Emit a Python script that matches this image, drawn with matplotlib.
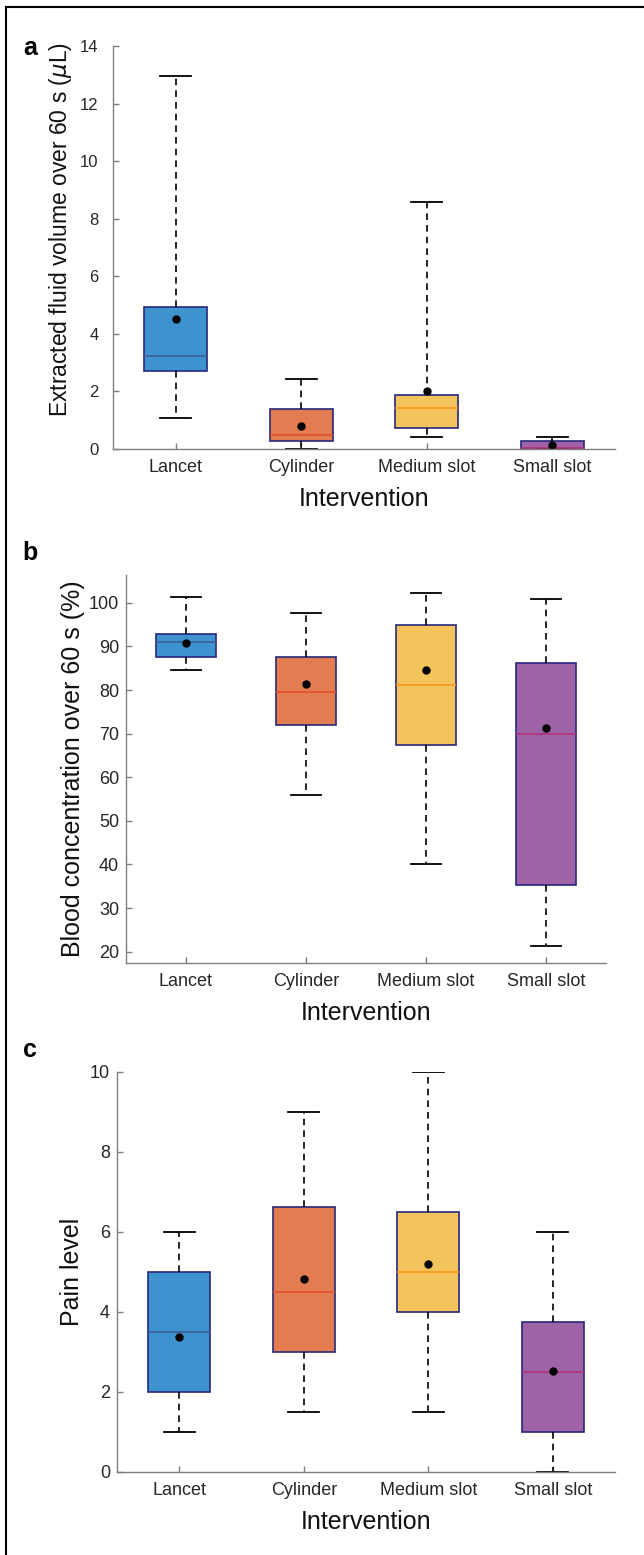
import matplotlib
matplotlib.use("Agg")
import matplotlib.pyplot as plt
from matplotlib.lines import Line2D

plt.rcParams['font.family'] = ['Liberation Sans', 'DejaVu Sans']

categories = ['Lancet', 'Cylinder', 'Medium slot', 'Small slot']
fills = ['#3e93cf', '#e37d51', '#f2c45b', '#9e62a7']
medcols = ['#3c5d96', '#e2502a', '#f7961f', '#b2307a']

# panel a: extracted fluid volume (uL)
vol_lo = [1.07, 0.0, 0.42, 0.0]
vol_q1 = [2.70, 0.28, 0.72, 0.0]
vol_med = [3.22, 0.50, 1.42, 0.04]
vol_q3 = [4.92, 1.40, 1.87, 0.28]
vol_hi = [12.95, 2.43, 8.57, 0.43]
vol_mean = [4.53, 0.80, 2.02, 0.14]

# panel b: blood concentration (%)
bc_lo = [84.5, 56.0, 40.2, 21.2]
bc_q1 = [87.6, 71.9, 67.4, 35.3]
bc_med = [91.1, 79.5, 81.1, 70.0]
bc_q3 = [92.8, 87.5, 95.0, 86.2]
bc_hi = [101.4, 97.6, 102.3, 101.0]
bc_mean = [90.7, 81.5, 84.7, 71.4]

# panel c: pain level
pain_lo = [1.0, 1.5, 1.5, 0.0]
pain_q1 = [2.0, 3.0, 4.0, 1.0]
pain_med = [3.5, 4.5, 5.0, 2.5]
pain_q3 = [5.0, 6.62, 6.5, 3.75]
pain_hi = [6.0, 9.0, 10.0, 6.0]
pain_mean = [3.38, 4.82, 5.2, 2.53]

W, H = 644, 1555
fig = plt.figure(figsize=(W / 100, H / 100), dpi=100)


def rect(l, t, r, b):
    return [l / W, 1 - b / H, (r - l) / W, (b - t) / H]


def panel(box, lo, q1, med, q3, hi, mean, ylim, yticks, ylabel, ylab_size,
          ylab_pos, ypad, ysize, letter):
    ax = fig.add_axes(rect(*box))
    stats = []
    for i in range(len(categories)):
        stats.append(dict(whislo=lo[i], q1=q1[i], med=med[i], q3=q3[i],
                          whishi=hi[i], mean=mean[i], fliers=[]))
    bp = ax.bxp(stats, positions=range(1, 5), widths=0.5, capwidths=0.25,
                patch_artist=True, showmeans=True, showfliers=False,
                boxprops=dict(edgecolor='#27287c', linewidth=1.2),
                whiskerprops=dict(color='black', linestyle=(0, (4, 3)), linewidth=1.2),
                capprops=dict(color='black', linewidth=1.3),
                meanprops=dict(marker='o', markerfacecolor='black',
                               markeredgecolor='black', markersize=5))
    for patch, fc in zip(bp['boxes'], fills):
        patch.set_facecolor(fc)
    for m, c in zip(bp['medians'], medcols):
        m.set_color(c)
        m.set_linewidth(1.2)
    ax.set_xlim(0.5, 4.5)
    ax.set_ylim(*ylim)
    ax.set_yticks(yticks)
    ax.set_xticks(range(1, 5))
    ax.set_xticklabels(categories)
    for s in ['top', 'right']:
        ax.spines[s].set_visible(False)
    for s in ['left', 'bottom']:
        ax.spines[s].set_color('#7f7f7f')
        ax.spines[s].set_linewidth(1.0)
    ax.tick_params(direction='in', length=4, width=1.0, color='#7f7f7f',
                   labelcolor='#262626', labelsize=13)
    ax.tick_params(axis='x', pad=7.5)
    ax.tick_params(axis='y', pad=ypad, labelsize=ysize)
    ax.set_xlabel('Intervention', fontsize=18, color='#111111', labelpad=7.5)
    ax.set_ylabel(ylabel, fontsize=ylab_size, color='#111111')
    ax.yaxis.set_label_coords(*ylab_pos)
    fig.text(30 / W, 1 - letter[1] / H, letter[0], fontsize=18, fontweight='bold',
             ha='center', va='baseline')
    return ax


panel((113, 46, 615, 449), vol_lo, vol_q1, vol_med, vol_q3, vol_hi, vol_mean,
      (0, 14), range(0, 15, 2), r'Extracted fluid volume over 60 s ($\mu$L)', 16.5,
      (-0.077, 0.545), 10.5, 12, ('a', 55))
panel((126, 575, 606, 963), bc_lo, bc_q1, bc_med, bc_q3, bc_hi, bc_mean,
      (17.4, 106.4), range(20, 101, 10), 'Blood concentration over 60 s (%)', 18,
      (-0.086, 0.5), 5, 13, ('b', 560))
panel((117, 1072, 615, 1472), pain_lo, pain_q1, pain_med, pain_q3, pain_hi, pain_mean,
      (0, 10), range(0, 11, 2), 'Pain level', 18,
      (-0.066, 0.5), 5, 13, ('c', 1057))

# outer frame of the figure
fig.add_artist(Line2D([6 / W, 6 / W], [0, 1 - 7 / H], color='black', linewidth=1.5))
fig.add_artist(Line2D([6 / W, 1], [1 - 7 / H, 1 - 7 / H], color='black', linewidth=1.5))

plt.savefig('out.png', dpi=100)
